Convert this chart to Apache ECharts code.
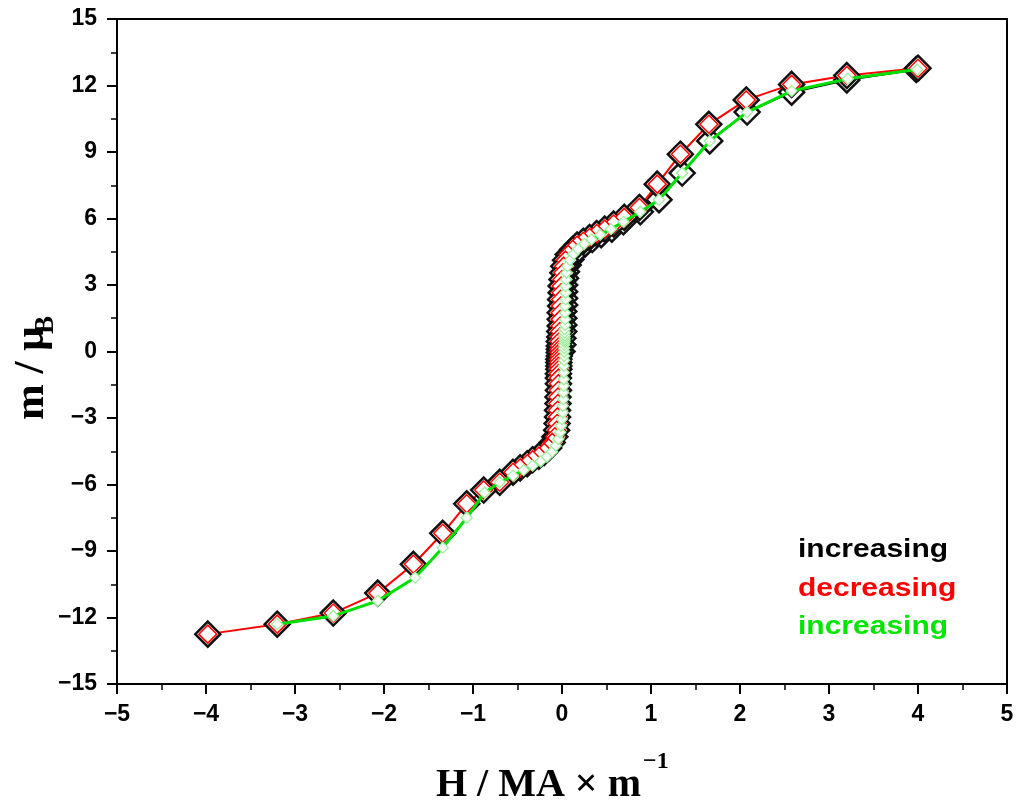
<!DOCTYPE html>
<html>
<head>
<meta charset="utf-8">
<script src="https://cdn.jsdelivr.net/npm/echarts@6/dist/echarts.min.js"></script>
<style>
  html, body { margin: 0; padding: 0; background: #fff; }
  #chart { width: 1025px; height: 805px; }
</style>
</head>
<body>
<div id="chart"></div>
<script>
// Field H (MA/m) and moment m (μB) for each sweep of the magnetisation loop.

// first sweep: increasing field from zero (virgin curve)
const virginH = [0.00, 0.01, 0.01, 0.02, 0.02, 0.02, 0.02, 0.03, 0.03, 0.03, 0.03, 0.04, 0.05, 0.07,
  0.10, 0.14, 0.19, 0.26, 0.34, 0.44, 0.56, 0.69, 0.88, 1.09, 1.35, 1.66, 2.08, 2.58, 3.20, 3.98];
const virginM = [0.0, 0.3, 0.6, 0.9, 1.2, 1.5, 1.8, 2.1, 2.4, 2.7, 3.0, 3.3, 3.6, 3.9,
  4.15, 4.4, 4.62, 4.85, 5.05, 5.27, 5.52, 5.85, 6.3, 6.85, 8.05, 9.5, 10.8, 11.7, 12.25, 12.72];

// second sweep: decreasing field from +4 to -4
const downH = [4.00, 3.20, 2.58, 2.07, 1.65, 1.33, 1.07, 0.87, 0.70, 0.58, 0.48, 0.39, 0.31, 0.24,
  0.17, 0.12, 0.07, 0.04, 0.02, 0.01, 0.00, -0.01, -0.01, -0.015, -0.015, -0.02, -0.02, -0.02,
  -0.025, -0.025, -0.03, -0.03, -0.03, -0.03, -0.03, -0.035, -0.035, -0.035, -0.035, -0.04, -0.04,
  -0.04, -0.04, -0.045, -0.045, -0.05, -0.05, -0.055, -0.06, -0.08, -0.11, -0.15, -0.20, -0.26,
  -0.33, -0.39, -0.47, -0.55, -0.70, -0.88, -1.07, -1.34, -1.67, -2.07, -2.57, -3.20, -3.98];
const downM = [12.78, 12.45, 12.05, 11.35, 10.25, 8.9, 7.55, 6.5, 6.05, 5.75, 5.52, 5.32, 5.14, 4.97,
  4.8, 4.6, 4.38, 4.12, 3.85, 3.55, 3.25, 2.95, 2.65, 2.35, 2.05, 1.75, 1.45, 1.15,
  0.9, 0.65, 0.45, 0.25, 0.1, -0.05, -0.2, -0.35, -0.5, -0.65, -0.8, -1.0, -1.2,
  -1.45, -1.75, -2.05, -2.35, -2.65, -2.95, -3.25, -3.55, -3.85, -4.1, -4.35, -4.55, -4.72,
  -4.88, -5.06, -5.25, -5.45, -5.9, -6.25, -6.87, -8.2, -9.6, -10.9, -11.8, -12.3, -12.75];

// third sweep: increasing field from -3.2 to +4
const upH = [-3.20, -2.57, -2.07, -1.65, -1.34, -1.07, -0.87, -0.70, -0.55, -0.43, -0.33, -0.24,
  -0.17, -0.11, -0.07, -0.04, -0.02, -0.01, 0.00, 0.01, 0.01, 0.015, 0.015, 0.02, 0.02, 0.02,
  0.02, 0.025, 0.025, 0.025, 0.025, 0.025, 0.03, 0.03, 0.03, 0.03, 0.03, 0.03, 0.035, 0.035,
  0.035, 0.035, 0.04, 0.04, 0.04, 0.045, 0.05, 0.06, 0.09, 0.13, 0.18, 0.25, 0.33, 0.43, 0.55,
  0.69, 0.88, 1.09, 1.35, 1.66, 2.08, 2.58, 3.21, 3.99];
const upM = [-12.3, -11.93, -11.25, -10.2, -8.85, -7.5, -6.37, -5.9, -5.6, -5.35, -5.15, -4.95,
  -4.75, -4.52, -4.25, -3.95, -3.65, -3.35, -3.05, -2.75, -2.45, -2.15, -1.85, -1.55, -1.25, -0.95,
  -0.65, -0.4, -0.2, 0.0, 0.15, 0.3, 0.42, 0.52, 0.62, 0.72, 0.85, 1.0, 1.2, 1.45,
  1.75, 2.05, 2.35, 2.65, 2.95, 3.25, 3.55, 3.85, 4.12, 4.4, 4.62, 4.85, 5.05, 5.27, 5.52,
  5.85, 6.3, 6.85, 8.05, 9.5, 10.8, 11.75, 12.3, 12.72];

// axis ranges and tick steps
const xRange = [-5, 5], xStep = 1;
const yRange = [-15, 15], yStep = 3;

// legend entries (text, colour, centre y)
const legendItems = [
  { text: 'increasing', color: '#000000', y: 550 },
  { text: 'decreasing', color: '#ff0000', y: 589 },
  { text: 'increasing', color: '#00e600', y: 627 }
];

const pairs = (hs, ms) => hs.map((h, i) => [h, ms[i]]);
const minus = v => String(v).replace('-', '\u2212');

const tickFont = { fontFamily: '"Liberation Sans", Arial, sans-serif', fontWeight: 'bold', fontSize: 23, color: '#000' };
const axisCommon = {
  axisLine: { show: true, onZero: false, lineStyle: { color: '#000', width: 2 } },
  axisTick: { show: true, inside: false, length: 10, lineStyle: { color: '#000', width: 2 } },
  minorTick: { show: true, splitNumber: 2, length: 6, lineStyle: { color: '#000', width: 1.5 } },
  splitLine: { show: false },
  minorSplitLine: { show: false }
};

const serif = '"Liberation Serif", "Times New Roman", serif';

const chart = echarts.init(document.getElementById('chart'), null, { renderer: 'canvas' });
chart.setOption({
  animation: false,
  backgroundColor: '#fff',
  grid: { left: 117, right: 18, top: 19, bottom: 121, show: true, borderColor: '#000', borderWidth: 2, containLabel: false },
  xAxis: Object.assign({
    type: 'value', min: xRange[0], max: xRange[1], interval: xStep,
    axisLabel: Object.assign({ margin: 19, formatter: minus }, tickFont)
  }, axisCommon),
  yAxis: Object.assign({
    type: 'value', min: yRange[0], max: yRange[1], interval: yStep,
    axisLabel: Object.assign({ margin: 20, formatter: minus }, tickFont)
  }, axisCommon),
  series: [
    {
      name: 'increasing (virgin)', type: 'line', data: pairs(virginH, virginM),
      lineStyle: { color: '#000', width: 2 },
      symbol: 'diamond', symbolSize: 25,
      itemStyle: { color: '#fff', borderColor: '#111', borderWidth: 2.5 },
      z: 2
    },
    {
      name: 'decreasing line', type: 'line', data: pairs(downH, downM),
      lineStyle: { color: '#ff0000', width: 2 }, showSymbol: false, symbol: 'none',
      z: 3
    },
    {
      name: 'decreasing outline', type: 'line', data: pairs(downH, downM),
      lineStyle: { width: 0, opacity: 0 },
      symbol: 'diamond', symbolSize: 25,
      itemStyle: { color: '#fff', borderColor: '#111', borderWidth: 2.5 },
      z: 4
    },
    {
      name: 'decreasing', type: 'line', data: pairs(downH, downM),
      lineStyle: { width: 0, opacity: 0 },
      symbol: 'diamond', symbolSize: 18,
      itemStyle: { color: '#fff', borderColor: '#ff0000', borderWidth: 1.5 },
      z: 5
    },
    {
      name: 'increasing', type: 'line', data: pairs(upH, upM),
      lineStyle: { color: '#00e000', width: 3 },
      symbol: 'diamond', symbolSize: 11,
      itemStyle: { color: '#fff', borderColor: '#9ef09e', borderWidth: 1.3 },
      z: 6
    }
  ],
  graphic: [
    // y-axis title, rotated
    {
      type: 'group', x: 32, y: 420, rotation: Math.PI / 2,
      children: [
        { type: 'text', x: 0, y: 0, style: { text: 'm / \u03bc', font: 'bold 43px ' + serif, fill: '#000', textAlign: 'left', textVerticalAlign: 'middle' } },
        { type: 'text', x: 86, y: 14, style: { text: 'B', font: 'bold 27px ' + serif, fill: '#000', textAlign: 'left', textVerticalAlign: 'middle' } }
      ]
    },
    // x-axis title
    {
      type: 'group', x: 436, y: 786,
      children: [
        { type: 'text', x: 0, y: 0, style: { text: 'H / MA \u00d7 m', font: 'bold 40px ' + serif, fill: '#000', textAlign: 'left', textVerticalAlign: 'middle' } },
        { type: 'text', x: 207, y: -24, style: { text: '\u22121', font: 'bold 24px ' + serif, fill: '#000', textAlign: 'left', textVerticalAlign: 'middle' } }
      ]
    }
  ].concat(legendItems.map(it => ({
    type: 'text', x: 798, y: it.y, scaleX: 1.2,
    style: { text: it.text, font: 'bold 25px "Liberation Sans", Arial, sans-serif', fill: it.color, textAlign: 'left', textVerticalAlign: 'middle' }
  })))
});
</script>
</body>
</html>
